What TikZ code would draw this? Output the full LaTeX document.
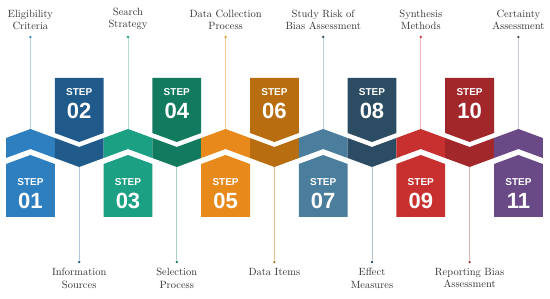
\documentclass[tikz,border=0pt]{standalone}
\usepackage{fontspec}
\setsansfont{Liberation Sans}
\usetikzlibrary{positioning}

\definecolor{stepA}{HTML}{2E7FBF}
\definecolor{stepB}{HTML}{1F5A8A}
\definecolor{stepC}{HTML}{1CA083}
\definecolor{stepD}{HTML}{127A5F}
\definecolor{stepE}{HTML}{E8891C}
\definecolor{stepF}{HTML}{B86E10}
\definecolor{stepG}{HTML}{4A7E9C}
\definecolor{stepH}{HTML}{2C4C63}
\definecolor{stepI}{HTML}{C8302F}
\definecolor{stepJ}{HTML}{A2272A}
\definecolor{stepK}{HTML}{6A4A86}

\begin{document}
\begin{tikzpicture}[
    x=1pt, y=-1pt,
    every node/.style={font=\fontsize{10.5}{12.5}\selectfont},
    steplabel/.style={align=center, inner sep=0pt, text=black!80},
    steptag/.style={font=\sffamily\bfseries\fontsize{10}{10}\selectfont, text=white, inner sep=0pt},
    stepnum/.style={font=\sffamily\bfseries\fontsize{22}{22}\selectfont, text=white, inner sep=0pt},
    dot/.style={circle, inner sep=0pt, minimum size=2.6pt},
    leader/.style={line width=0.7pt}
]
\useasboundingbox (0,0) rectangle (550,299);

% ============ ZIGZAG BAND ============
\fill[stepA] (6,138) -- (30.4,129) -- (54.8,138) -- (54.8,158) -- (30.4,149) -- (6,158) -- cycle;
\fill[stepB] (54.8,138) -- (79.2,147) -- (103.6,138) -- (103.6,158) -- (79.2,167) -- (54.8,158) -- cycle;
\fill[stepC] (103.6,138) -- (128,129) -- (152.4,138) -- (152.4,158) -- (128,149) -- (103.6,158) -- cycle;
\fill[stepD] (152.4,138) -- (176.8,147) -- (201.2,138) -- (201.2,158) -- (176.8,167) -- (152.4,158) -- cycle;
\fill[stepE] (201.2,138) -- (225.6,129) -- (250,138) -- (250,158) -- (225.6,149) -- (201.2,158) -- cycle;
\fill[stepF] (250,138) -- (274.4,147) -- (298.8,138) -- (298.8,158) -- (274.4,167) -- (250,158) -- cycle;
\fill[stepG] (298.8,138) -- (323.2,129) -- (347.6,138) -- (347.6,158) -- (323.2,149) -- (298.8,158) -- cycle;
\fill[stepH] (347.6,138) -- (372,147) -- (396.4,138) -- (396.4,158) -- (372,167) -- (347.6,158) -- cycle;
\fill[stepI] (396.4,138) -- (420.8,129) -- (445.2,138) -- (445.2,158) -- (420.8,149) -- (396.4,158) -- cycle;
\fill[stepJ] (445.2,138) -- (469.6,147) -- (494,138) -- (494,158) -- (469.6,167) -- (445.2,158) -- cycle;
\fill[stepK] (494,138) -- (518.4,129) -- (542.8,138) -- (542.8,158) -- (518.4,149) -- (494,158) -- cycle;

% band tips where the leaders meet
\coordinate (tipA) at (30.4,129);
\coordinate (tipB) at (79.2,167);
\coordinate (tipC) at (128,129);
\coordinate (tipD) at (176.8,167);
\coordinate (tipE) at (225.6,129);
\coordinate (tipF) at (274.4,167);
\coordinate (tipG) at (323.2,129);
\coordinate (tipH) at (372,167);
\coordinate (tipI) at (420.8,129);
\coordinate (tipJ) at (469.6,167);
\coordinate (tipK) at (518.4,129);

% ============ ODD STEPS (BELOW) ============
\fill[stepA] (6,164) -- (30.4,155) -- (54.8,164) -- (54.8,217) -- (6,217) -- cycle;
\fill[stepC] (103.6,164) -- (128,155) -- (152.4,164) -- (152.4,217) -- (103.6,217) -- cycle;
\fill[stepE] (201.2,164) -- (225.6,155) -- (250,164) -- (250,217) -- (201.2,217) -- cycle;
\fill[stepG] (298.8,164) -- (323.2,155) -- (347.6,164) -- (347.6,217) -- (298.8,217) -- cycle;
\fill[stepI] (396.4,164) -- (420.8,155) -- (445.2,164) -- (445.2,217) -- (396.4,217) -- cycle;
\fill[stepK] (494,164) -- (518.4,155) -- (542.8,164) -- (542.8,217) -- (494,217) -- cycle;

\node[steptag] (tagA) at (30.4,182) {STEP};
\node[stepnum] (numA) at (30.4,201) {01};
\node[steptag] (tagC) at (128,182) {STEP};
\node[stepnum] (numC) at (128,201) {03};
\node[steptag] (tagE) at (225.6,182) {STEP};
\node[stepnum] (numE) at (225.6,201) {05};
\node[steptag] (tagG) at (323.2,182) {STEP};
\node[stepnum] (numG) at (323.2,201) {07};
\node[steptag] (tagI) at (420.8,182) {STEP};
\node[stepnum] (numI) at (420.8,201) {09};
\node[steptag] (tagK) at (518.4,182) {STEP};
\node[stepnum] (numK) at (518.4,201) {11};

% ============ EVEN STEPS (ABOVE) ============
\fill[stepB] (54.8,78) -- (103.6,78) -- (103.6,133) -- (79.2,142) -- (54.8,133) -- cycle;
\fill[stepD] (152.4,78) -- (201.2,78) -- (201.2,133) -- (176.8,142) -- (152.4,133) -- cycle;
\fill[stepF] (250,78) -- (298.8,78) -- (298.8,133) -- (274.4,142) -- (250,133) -- cycle;
\fill[stepH] (347.6,78) -- (396.4,78) -- (396.4,133) -- (372,142) -- (347.6,133) -- cycle;
\fill[stepJ] (445.2,78) -- (494,78) -- (494,133) -- (469.6,142) -- (445.2,133) -- cycle;

\node[steptag] (tagB) at (79.2,92) {STEP};
\node[stepnum] (numB) at (79.2,111) {02};
\node[steptag] (tagD) at (176.8,92) {STEP};
\node[stepnum] (numD) at (176.8,111) {04};
\node[steptag] (tagF) at (274.4,92) {STEP};
\node[stepnum] (numF) at (274.4,111) {06};
\node[steptag] (tagH) at (372,92) {STEP};
\node[stepnum] (numH) at (372,111) {08};
\node[steptag] (tagJ) at (469.6,92) {STEP};
\node[stepnum] (numJ) at (469.6,111) {10};

% ============ TOP LABELS ============
\node[steplabel, anchor=south] (labA) at (30.4,30) {Eligibility\\Criteria};
\node[steplabel, anchor=south] (labC) at (128,30) {Search\\Strategy};
\node[steplabel, anchor=south] (labE) at (225.6,30) {Data Collection\\Process};
\node[steplabel, anchor=south] (labG) at (323.2,30) {Study Risk of\\Bias Assessment};
\node[steplabel, anchor=south] (labI) at (420.8,30) {Synthesis\\Methods};
\node[steplabel, anchor=south] (labK) at (518.4,30) {Certainty\\Assessment};

\node[dot, fill=stepA] (dotA) at (30.4,37) {};
\node[dot, fill=stepC] (dotC) at (128,37) {};
\node[dot, fill=stepE] (dotE) at (225.6,37) {};
\node[dot, fill=stepH] (dotG) at (323.2,37) {};
\node[dot, fill=stepI] (dotI) at (420.8,37) {};
\node[dot, fill=black!75] (dotK) at (518.4,37) {};

\draw[leader, stepA!35] (dotA) -- (tipA);
\draw[leader, stepC!35] (dotC) -- (tipC);
\draw[leader, stepE!45] (dotE) -- (tipE);
\draw[leader, stepG!35] (dotG) -- (tipG);
\draw[leader, stepI!35] (dotI) -- (tipI);
\draw[leader, stepK!30] (dotK) -- (tipK);

% ============ BOTTOM LABELS ============
\node[steplabel, anchor=north] (labB) at (79.2,268) {Information\\Sources};
\node[steplabel, anchor=north] (labD) at (176.8,268) {Selection\\Process};
\node[steplabel, anchor=north] (labF) at (274.4,268) {Data Items};
\node[steplabel, anchor=north] (labH) at (372,268) {Effect\\Measures};
\node[steplabel, anchor=north] (labJ) at (469.6,268) {Reporting Bias\\Assessment};

\node[dot, fill=stepB] (dotB) at (79.2,262) {};
\node[dot, fill=stepD] (dotD) at (176.8,262) {};
\node[dot, fill=stepF] (dotF) at (274.4,262) {};
\node[dot, fill=stepH] (dotH) at (372,262) {};
\node[dot, fill=stepJ] (dotJ) at (469.6,262) {};

\draw[leader, stepB!35] (tipB) -- (dotB);
\draw[leader, stepD!35] (tipD) -- (dotD);
\draw[leader, stepF!45] (tipF) -- (dotF);
\draw[leader, stepH!35] (tipH) -- (dotH);
\draw[leader, stepJ!35] (tipJ) -- (dotJ);

\end{tikzpicture}
\end{document}
